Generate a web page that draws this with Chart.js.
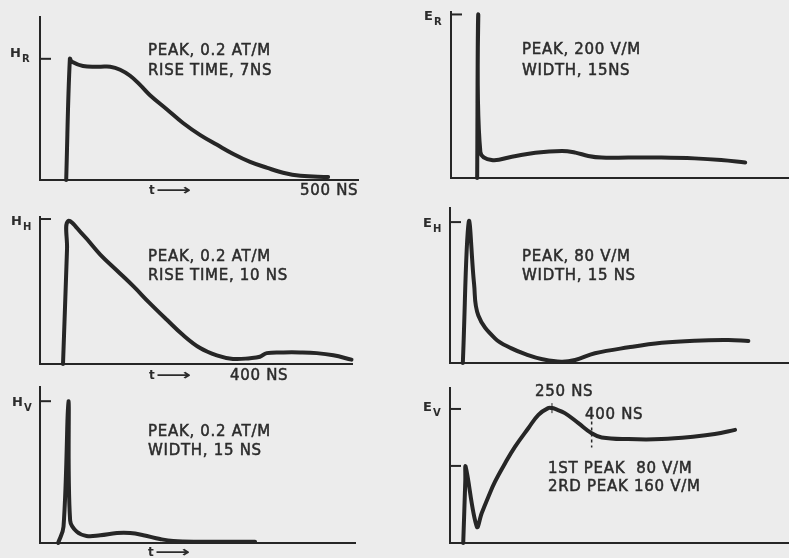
<!DOCTYPE html>
<html>
<head>
<meta charset="utf-8">
<script src="https://cdn.jsdelivr.net/npm/chart.js@4.4.1/dist/chart.umd.min.js"></script>
<style>
  html, body { margin: 0; padding: 0; background: #ececec; }
  #wrap { position: relative; width: 789px; height: 558px; overflow: hidden; }
  #wrap canvas { position: absolute; left: 0; top: 0; }
</style>
</head>
<body>
<div id="wrap">
  <canvas id="hr" width="789" height="558"></canvas>
  <canvas id="er" width="789" height="558"></canvas>
  <canvas id="hh" width="789" height="558"></canvas>
  <canvas id="eh" width="789" height="558"></canvas>
  <canvas id="hv" width="789" height="558"></canvas>
  <canvas id="ev" width="789" height="558"></canvas>
</div>
<script>
// time in ns, amplitude in AT/M (H) or V/M (E)
var HR_T = [0, 7, 11, 32, 65, 84, 103, 122, 141, 160, 193, 223, 256, 288, 319, 351, 384, 414, 447, 500];
var HR_V = [0, 0.2, 0.195, 0.188, 0.187, 0.187, 0.182, 0.172, 0.157, 0.140, 0.116, 0.094, 0.074, 0.058, 0.043, 0.030, 0.020, 0.012, 0.007, 0.005];

var ER_T = [-2, 0, 4, 25, 63, 107, 157, 182, 206, 231, 281, 343, 405, 455, 500];
var ER_V = [0, 200, 32, 22, 26, 31, 33, 31, 27, 25, 25, 25, 24, 22, 19];

var HH_T = [0, 8.2, 10, 41, 76, 110, 144, 177, 212, 245, 280, 314, 347, 382, 402, 416, 450, 484, 518, 552, 589];
var HH_V = [0, 0.159, 0.197, 0.178, 0.151, 0.129, 0.107, 0.084, 0.061, 0.040, 0.022, 0.012, 0.007, 0.008, 0.010, 0.015, 0.016, 0.016, 0.015, 0.012, 0.006];

var EH_T = [0, 11, 21, 29, 60, 91, 122, 147, 184, 210, 247, 310, 372, 434, 497, 534];
var EH_V = [0, 80, 45, 27, 14, 8.3, 4.5, 2.3, 0.7, 1.7, 5.5, 8.9, 11.5, 12.7, 13, 12.5];

var HV_T = [0, 11, 21, 24.5, 38, 58, 86, 120, 147, 174, 208, 235, 290, 358, 402];
var HV_V = [0, 0.023, 0.2, 0.032, 0.016, 0.010, 0.011, 0.014, 0.014, 0.011, 0.0056, 0.0028, 0.0018, 0.0018, 0.0018];

var EV_T = [-5, 1, 2, 34, 48, 67, 86, 115, 144, 182, 211, 239, 250, 259, 287, 326, 364, 393, 469, 565, 661, 718, 776];
var EV_V = [0, 75, 91, 19.5, 35.5, 55, 73, 95, 115, 137, 153, 161, 161, 160, 155, 143, 131, 126, 124, 124, 127, 130, 135];

var EV_MARK_T = 364;          // dashed "400 NS" marker
var EV_MARK_V = [114, 145];
var EV_PEAK_T = 250;

var INK = '#262626';
var TEXT = '#2c2c2c';
var FONT = '"DejaVu Sans", sans-serif';

var inkPlugin = {
    id: 'ink',
    afterDraw: function(chart, args, opts) {
        var ctx = chart.ctx;
        var xs = chart.scales.x, ys = chart.scales.y;
        ctx.save();
        ctx.strokeStyle = INK;
        ctx.lineWidth = 2;
        (opts.ticks || []).forEach(function(v) {
            var py = ys.getPixelForValue(v);
            ctx.beginPath();
            ctx.moveTo(xs.left, py);
            ctx.lineTo(xs.left + 11, py);
            ctx.stroke();
        });
        if (opts.marks) opts.marks(ctx, xs, ys);

        ctx.fillStyle = TEXT;
        ctx.strokeStyle = TEXT;
        ctx.lineWidth = 0.5;
        ctx.textBaseline = 'middle';
        ctx.textAlign = 'left';
        if (opts.symbol) {
            var s = opts.symbol;
            ctx.font = 'bold 13px ' + FONT;
            ctx.fillText(s.main, s.x, s.y);
            var w = ctx.measureText(s.main).width;
            ctx.font = 'bold 10px ' + FONT;
            ctx.fillText(s.sub, s.x + w + 1, s.y + 5);
        }
        ctx.font = '15px ' + FONT;
        ctx.letterSpacing = '0.7px';
        (opts.texts || []).forEach(function(t) {
            ctx.fillText(t[0], t[1], t[2]);
            ctx.strokeText(t[0], t[1], t[2]);
        });
        ctx.letterSpacing = '0px';
        if (opts.arrow) {
            var a = opts.arrow;
            ctx.font = 'bold 12px ' + FONT;
            ctx.fillText('t', a.x, a.y);
            ctx.font = 'bold 15px ' + FONT;
            var aw = ctx.measureText('\u27F6').width;
            ctx.save();
            ctx.translate(a.x + 7, a.y);
            ctx.scale(35 / aw, 1);
            ctx.fillText('\u27F6', 0, 0);
            ctx.restore();
        }
        ctx.restore();
    }
};

function makePanel(id, t, v, cfg) {
    var pts = t.map(function(x, i) { return { x: x, y: v[i] }; });
    var b = cfg.box;
    new Chart(document.getElementById(id), {
        type: 'line',
        data: {
            datasets: [{
                data: pts,
                borderColor: INK,
                borderWidth: 4,
                pointRadius: 0,
                fill: false,
                tension: 0.4,
                borderCapStyle: 'round',
                borderJoinStyle: 'round',
                clip: false
            }]
        },
        options: {
            responsive: false,
            animation: false,
            events: [],
            devicePixelRatio: 1,
            layout: { padding: { left: b[0], top: b[1], right: 789 - b[2], bottom: 558 - b[3] } },
            plugins: {
                legend: { display: false },
                tooltip: { enabled: false },
                ink: cfg.ink
            },
            scales: {
                x: {
                    type: 'linear', min: cfg.x[0], max: cfg.x[1],
                    ticks: { display: false },
                    grid: { display: false, drawTicks: false },
                    border: { display: true, color: INK, width: 2 }
                },
                y: {
                    type: 'linear', min: 0, max: cfg.y,
                    ticks: { display: false },
                    grid: { display: false, drawTicks: false },
                    border: { display: true, color: INK, width: 2 }
                }
            }
        },
        plugins: [inkPlugin]
    });
}

makePanel('hr', HR_T, HR_V, {
    box: [40, 17, 358, 180], x: [-50, 557], y: 0.269,
    ink: {
        ticks: [0.2],
        symbol: { main: 'H', sub: 'R', x: 10, y: 54 },
        texts: [['PEAK, 0.2 AT/M', 148, 51], ['RISE TIME, 7NS', 148, 71], ['500 NS', 300, 191]],
        arrow: { x: 149, y: 191 }
    }
});

makePanel('er', ER_T, ER_V, {
    box: [451, 12, 789, 178], x: [-51, 582], y: 203,
    ink: {
        ticks: [200],
        symbol: { main: 'E', sub: 'R', x: 424, y: 17 },
        texts: [['PEAK, 200 V/M', 522, 50], ['WIDTH, 15NS', 522, 71]]
    }
});

makePanel('hh', HH_T, HH_V, {
    box: [40, 217, 352, 364], x: [-47, 590], y: 0.2028,
    ink: {
        ticks: [0.2],
        symbol: { main: 'H', sub: 'H', x: 11, y: 222 },
        texts: [['PEAK, 0.2 AT/M', 148, 257], ['RISE TIME, 10 NS', 148, 276], ['400 NS', 230, 376]],
        arrow: { x: 149, y: 376 }
    }
});

makePanel('eh', EH_T, EH_V, {
    box: [450, 208, 789, 363], x: [-24, 610], y: 88,
    ink: {
        ticks: [80],
        symbol: { main: 'E', sub: 'H', x: 423, y: 224 },
        texts: [['PEAK, 80 V/M', 522, 257], ['WIDTH, 15 NS', 522, 276]]
    }
});

makePanel('hv', HV_T, HV_V, {
    box: [40, 387, 355, 543], x: [-37, 606], y: 0.22,
    ink: {
        ticks: [0.2],
        symbol: { main: 'H', sub: 'V', x: 12, y: 403 },
        texts: [['PEAK, 0.2 AT/M', 148, 432], ['WIDTH, 15 NS', 148, 451]],
        arrow: { x: 148, y: 553 }
    }
});

makePanel('ev', EV_T, EV_V, {
    box: [450, 388, 789, 543], x: [-43, 931], y: 185,
    ink: {
        ticks: [92, 160],
        symbol: { main: 'E', sub: 'V', x: 423, y: 408 },
        texts: [['250 NS', 535, 392], ['400 NS', 585, 415], ['1ST PEAK  80 V/M', 548, 469], ['2RD PEAK 160 V/M', 548, 487]],
        marks: function(ctx, xs, ys) {
            var mx = xs.getPixelForValue(EV_MARK_T);
            ctx.save();
            ctx.lineWidth = 1.5;
            ctx.setLineDash([3, 3]);
            ctx.beginPath();
            ctx.moveTo(mx, ys.getPixelForValue(EV_MARK_V[1]));
            ctx.lineTo(mx, ys.getPixelForValue(EV_MARK_V[0]));
            ctx.stroke();
            ctx.setLineDash([]);
            var px = xs.getPixelForValue(EV_PEAK_T);
            ctx.lineWidth = 1;
            ctx.beginPath();
            ctx.moveTo(px, ys.getPixelForValue(167));
            ctx.lineTo(px, ys.getPixelForValue(155));
            ctx.stroke();
            ctx.restore();
        }
    }
});
</script>
</body>
</html>
